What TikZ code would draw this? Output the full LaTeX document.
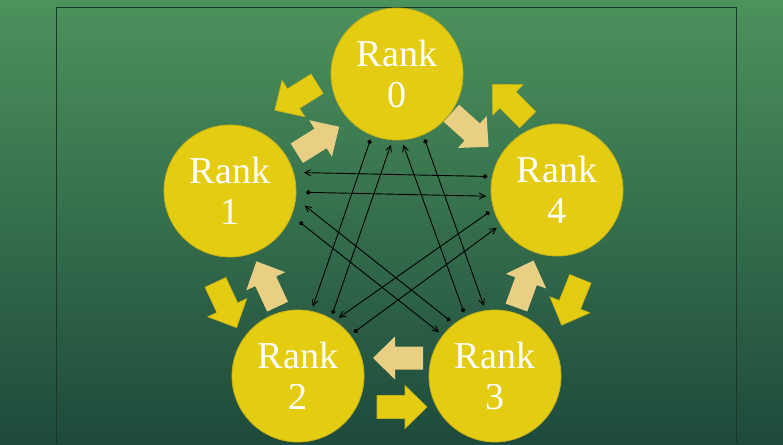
\documentclass[tikz,border=0pt]{standalone}
\usepackage{fontspec}
\setmainfont{Liberation Serif}
\usetikzlibrary{arrows.meta}
\definecolor{rankyellow}{RGB}{228,204,18}
\definecolor{rankedge}{RGB}{196,176,24}
\definecolor{paletan}{RGB}{232,207,132}
\definecolor{bgtop}{RGB}{76,146,92}
\definecolor{bgmid}{RGB}{47,106,77}
\definecolor{bgbottom}{RGB}{30,74,60}
\definecolor{framegreen}{RGB}{26,56,38}
\tikzset{
  rank/.style={
    circle,
    fill=rankyellow,
    draw=rankedge,
    line width=0.8pt,
    minimum size=132pt,
    inner sep=0pt,
    outer sep=#1,
    text=white,
    align=center,
    font=\fontsize{38}{41}\selectfont,
  },
  rank/.default=5pt,
  link/.style={
    {Circle[length=4.5pt]}-{Straight Barb[length=6pt,width=6pt]},
    line width=0.9pt,
    black,
  },
  sun arrow/.style={fill=rankyellow, draw=rankedge, line width=0.6pt},
  pale arrow/.style={fill=paletan},
  block arrow/.pic={
    \path[pic actions] (-25,-11.5) -- (3,-11.5) -- (3,-21.5) -- (25,0)
      -- (3,21.5) -- (3,11.5) -- (-25,11.5) -- cycle;
  },
}
\begin{document}
\begin{tikzpicture}[x=1pt,y=-1pt]
    \useasboundingbox (0,0) rectangle (783,444);
    \shade[top color=bgtop, middle color=bgmid, bottom color=bgbottom] (0,0) rectangle (783,444);
    \draw[framegreen, line width=1pt] (56,444) -- (56,8) -- (736,8) -- (736,444);

    \node [rank] (r0) at (397,74) {Rank\\0};
    \node [rank=10pt] (r1) at (230,191) {Rank\\1};
    \node [rank] (r4) at (557,190) {Rank\\4};
    \node [rank] (r2) at (298,376) {Rank\\2};
    \node [rank] (r3) at (495,376) {Rank\\3};

    \pic [sun arrow, rotate=212] at (296,97) {block arrow};
    \pic [pale arrow, rotate=32] at (318,140) {block arrow};
    \pic [pale arrow, rotate=-42] at (470,130) {block arrow};
    \pic [sun arrow, rotate=135] at (510,102) {block arrow};
    \pic [sun arrow, rotate=-65] at (226,305) {block arrow};
    \pic [pale arrow, rotate=115] at (267,284) {block arrow};
    \pic [pale arrow, rotate=70] at (525,284) {block arrow};
    \pic [sun arrow, rotate=-112] at (571,302) {block arrow};
    \pic [pale arrow, rotate=180] at (398,358) {block arrow};
    \pic [sun arrow, rotate=0] at (402,407) {block arrow};

    \draw [link] (r4.169) -- (r1.14);
    \draw [link] (r1.-1) -- (r4.185);
    \draw [link] (r0.248) -- (r2.78);
    \draw [link] (r2.61) -- (r0.265);
    \draw [link] (r3.116) -- (r0.275);
    \draw [link] (r0.293) -- (r3.99);
    \draw [link] (r1.-24) -- (r3.142);
    \draw [link] (r3.129) -- (r1.-11);
    \draw [link] (r4.198) -- (r2.55);
    \draw [link] (r2.38) -- (r4.212);
\end{tikzpicture}
\end{document}
